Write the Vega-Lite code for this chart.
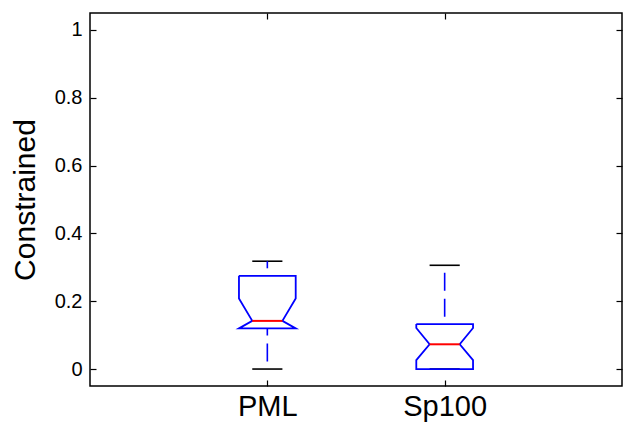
{
  "$schema": "https://vega.github.io/schema/vega-lite/v6.json",
  "width": 532,
  "height": 373,
  "autosize": "none",
  "padding": {"left": 90, "top": 13, "right": 1, "bottom": 47},
  "background": "white",
  "config": {
    "font": "Liberation Sans",
    "view": {"stroke": "black", "strokeWidth": 1.5}
  },
  "datasets": {
    "outline": [
      {"box": "PML", "ord": 1, "x": 0.84, "y": 0.275},
      {"box": "PML", "ord": 2, "x": 1.16, "y": 0.275},
      {"box": "PML", "ord": 3, "x": 1.16, "y": 0.208},
      {"box": "PML", "ord": 4, "x": 1.085, "y": 0.142},
      {"box": "PML", "ord": 5, "x": 1.16, "y": 0.12},
      {"box": "PML", "ord": 6, "x": 0.84, "y": 0.12},
      {"box": "PML", "ord": 7, "x": 0.915, "y": 0.142},
      {"box": "PML", "ord": 8, "x": 0.84, "y": 0.208},
      {"box": "PML", "ord": 9, "x": 0.84, "y": 0.275},
      {"box": "Sp100", "ord": 1, "x": 1.84, "y": 0.1325},
      {"box": "Sp100", "ord": 2, "x": 2.16, "y": 0.1325},
      {"box": "Sp100", "ord": 3, "x": 2.16, "y": 0.121},
      {"box": "Sp100", "ord": 4, "x": 2.085, "y": 0.073},
      {"box": "Sp100", "ord": 5, "x": 2.16, "y": 0.0265},
      {"box": "Sp100", "ord": 6, "x": 2.16, "y": 0.0},
      {"box": "Sp100", "ord": 7, "x": 1.84, "y": 0.0},
      {"box": "Sp100", "ord": 8, "x": 1.84, "y": 0.0265},
      {"box": "Sp100", "ord": 9, "x": 1.915, "y": 0.073},
      {"box": "Sp100", "ord": 10, "x": 1.84, "y": 0.121},
      {"box": "Sp100", "ord": 11, "x": 1.84, "y": 0.1325}
    ],
    "whiskers": [
      {"box": "PML", "x": 1, "y": 0.275, "y2": 0.318},
      {"box": "PML", "x": 1, "y": 0.0, "y2": 0.12},
      {"box": "Sp100", "x": 2, "y": 0.306, "y2": 0.1325}
    ],
    "caps": [
      {"box": "PML", "x": 0.915, "x2": 1.085, "y": 0.318},
      {"box": "PML", "x": 0.915, "x2": 1.085, "y": 0.0},
      {"box": "Sp100", "x": 1.915, "x2": 2.085, "y": 0.306},
      {"box": "Sp100", "x": 1.915, "x2": 2.085, "y": 0.0}
    ],
    "medians": [
      {"box": "PML", "x": 0.915, "x2": 1.085, "y": 0.142},
      {"box": "Sp100", "x": 1.915, "x2": 2.085, "y": 0.073}
    ]
  },
  "resolve": {"axis": {"x": "independent", "y": "independent"}},
  "layer": [
    {
      "data": {"name": "caps"},
      "mark": {"type": "rule", "color": "black", "strokeWidth": 1.6},
      "encoding": {
        "x": {
          "field": "x", "type": "quantitative",
          "scale": {"domain": [0, 3], "nice": false, "zero": false},
          "axis": {
            "orient": "bottom", "values": [1, 2], "title": null,
            "labelExpr": "datum.value == 1 ? 'PML' : 'Sp100'",
            "labelFontSize": 29, "labelColor": "black", "labelPadding": 12,
            "tickSize": -6, "tickColor": "black", "tickWidth": 1.2,
            "domain": false, "grid": false
          }
        },
        "x2": {"field": "x2"},
        "y": {
          "field": "y", "type": "quantitative",
          "scale": {"domain": [-0.05, 1.05], "nice": false, "zero": false},
          "axis": {
            "orient": "left", "values": [0, 0.2, 0.4, 0.6, 0.8, 1],
            "format": "~g", "title": "Constrained",
            "titleFontSize": 30, "titleFontWeight": "normal", "titleColor": "black",
            "titlePadding": 14,
            "labelFontSize": 20, "labelColor": "black", "labelPadding": 14,
            "tickSize": -6, "tickColor": "black", "tickWidth": 1.2,
            "domain": false, "grid": false
          }
        }
      }
    },
    {
      "data": {"name": "whiskers"},
      "mark": {"type": "rule", "color": "#0000ff", "strokeWidth": 1.6, "strokeDash": [18, 8], "strokeDashOffset": 18.5},
      "encoding": {
        "x": {
          "field": "x", "type": "quantitative",
          "axis": {
            "orient": "top", "values": [1, 2], "title": null, "labels": false,
            "tickSize": -6, "tickColor": "black", "tickWidth": 1.2,
            "domain": false, "grid": false
          }
        },
        "y": {
          "field": "y", "type": "quantitative",
          "axis": {
            "orient": "right", "values": [0, 0.2, 0.4, 0.6, 0.8, 1], "title": null, "labels": false,
            "tickSize": -6, "tickColor": "black", "tickWidth": 1.2,
            "domain": false, "grid": false
          }
        },
        "y2": {"field": "y2"}
      }
    },
    {
      "data": {"name": "outline"},
      "mark": {"type": "line", "color": "#0000ff", "strokeWidth": 1.8, "strokeJoin": "miter"},
      "encoding": {
        "x": {"field": "x", "type": "quantitative", "axis": null},
        "y": {"field": "y", "type": "quantitative", "axis": null},
        "detail": {"field": "box"},
        "order": {"field": "ord", "type": "quantitative"}
      }
    },
    {
      "data": {"name": "medians"},
      "mark": {"type": "rule", "color": "#ff0000", "strokeWidth": 2},
      "encoding": {
        "x": {"field": "x", "type": "quantitative", "axis": null},
        "x2": {"field": "x2"},
        "y": {"field": "y", "type": "quantitative", "axis": null}
      }
    }
  ]
}
